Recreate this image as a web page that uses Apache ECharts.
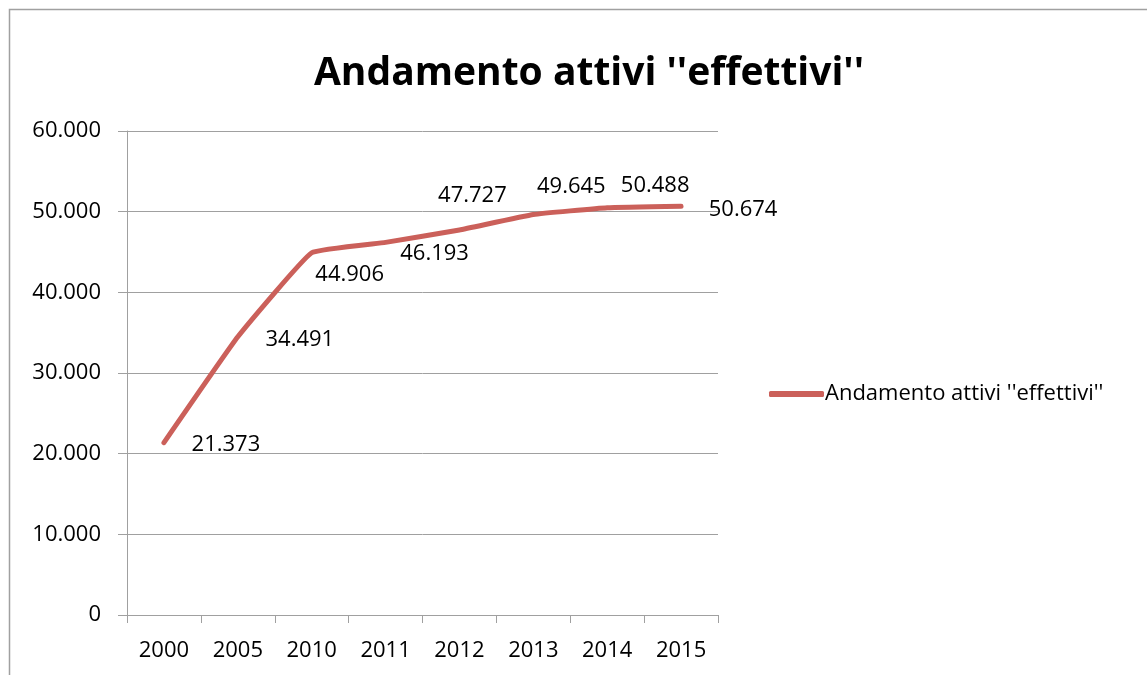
<!DOCTYPE html>
<html>
<head>
<meta charset="utf-8">
<script src="https://cdn.jsdelivr.net/npm/echarts@6/dist/echarts.min.js"></script>
<style>
  html, body { margin: 0; padding: 0; background: #fff; }
  #chart { width: 1147px; height: 675px; }
</style>
</head>
<body>
<div id="chart"></div>
<script>
const titleText = "Andamento attivi ''effettivi''"
const seriesName = "Andamento attivi ''effettivi''"
const years = ['2000', '2005', '2010', '2011', '2012', '2013', '2014', '2015']
const attivi = [21373, 34491, 44906, 46193, 47727, 49645, 50488, 50674]
const yTicks = [0, 10000, 20000, 30000, 40000, 50000, 60000]

// label nudges, roughly where Excel put them
const labelShift = [[62, 2], [62, 3], [38, 22], [49, 11], [13, -34], [38, -28], [48, -22], [62, 4]]

const fmt = v => v === 0 ? '0' : v.toString().replace(/\B(?=(\d{3})+(?!\d))/g, '.')
const font = '"Open Sans", sans-serif'
const red = '#cb605a'

const chart = echarts.init(document.getElementById('chart'))
chart.setOption({
  animation: false,
  textStyle: { fontFamily: font },
  graphic: [{
    type: 'rect',
    shape: { x: 9.5, y: 9.5, width: 1300, height: 800 },
    style: { fill: 'none', stroke: '#a0a0a0', lineWidth: 1.5 }
  }],
  title: {
    text: titleText,
    left: 584,
    textAlign: 'center',
    top: 49,
    textStyle: { fontFamily: font, fontSize: 39, fontWeight: 'bold', color: '#000' }
  },
  legend: {
    data: [seriesName],
    left: 764,
    top: 378,
    itemWidth: 55,
    itemHeight: 6,
    itemGap: 0,
    icon: 'roundRect',
    textStyle: { fontFamily: font, fontSize: 22, color: '#000', padding: [0, 0, 0, -4] }
  },
  grid: { left: 127, right: 429, top: 131, bottom: 60 },
  xAxis: {
    type: 'category',
    data: years,
    boundaryGap: true,
    axisLine: { lineStyle: { color: '#a0a0a0', width: 1 } },
    axisTick: { show: true, length: 8, lineStyle: { color: '#a0a0a0' } },
    axisLabel: { fontFamily: font, fontSize: 22, color: '#000', margin: 25 }
  },
  yAxis: {
    type: 'value',
    min: yTicks[0],
    max: yTicks[yTicks.length - 1],
    interval: 10000,
    axisLine: { show: true, lineStyle: { color: '#a0a0a0', width: 1 } },
    axisTick: { show: true, length: 9, lineStyle: { color: '#a0a0a0' } },
    splitLine: { lineStyle: { color: '#a0a0a0', width: 1 } },
    axisLabel: { fontFamily: font, fontSize: 22, color: '#000', margin: 26, formatter: fmt }
  },
  series: [{
    name: seriesName,
    type: 'line',
    smooth: 0.1,
    symbol: 'circle',
    symbolSize: 0.5,
    showSymbol: true,
    itemStyle: { color: red },
    lineStyle: { color: red, width: 5, cap: 'round', join: 'round' },
    data: attivi.map((v, i) => ({
      value: v,
      label: {
        show: true,
        position: 'inside',
        offset: labelShift[i],
        align: 'center',
        verticalAlign: 'middle',
        fontFamily: font,
        fontSize: 22,
        color: '#000',
        formatter: p => fmt(p.value)
      }
    }))
  }]
})
</script>
</body>
</html>
